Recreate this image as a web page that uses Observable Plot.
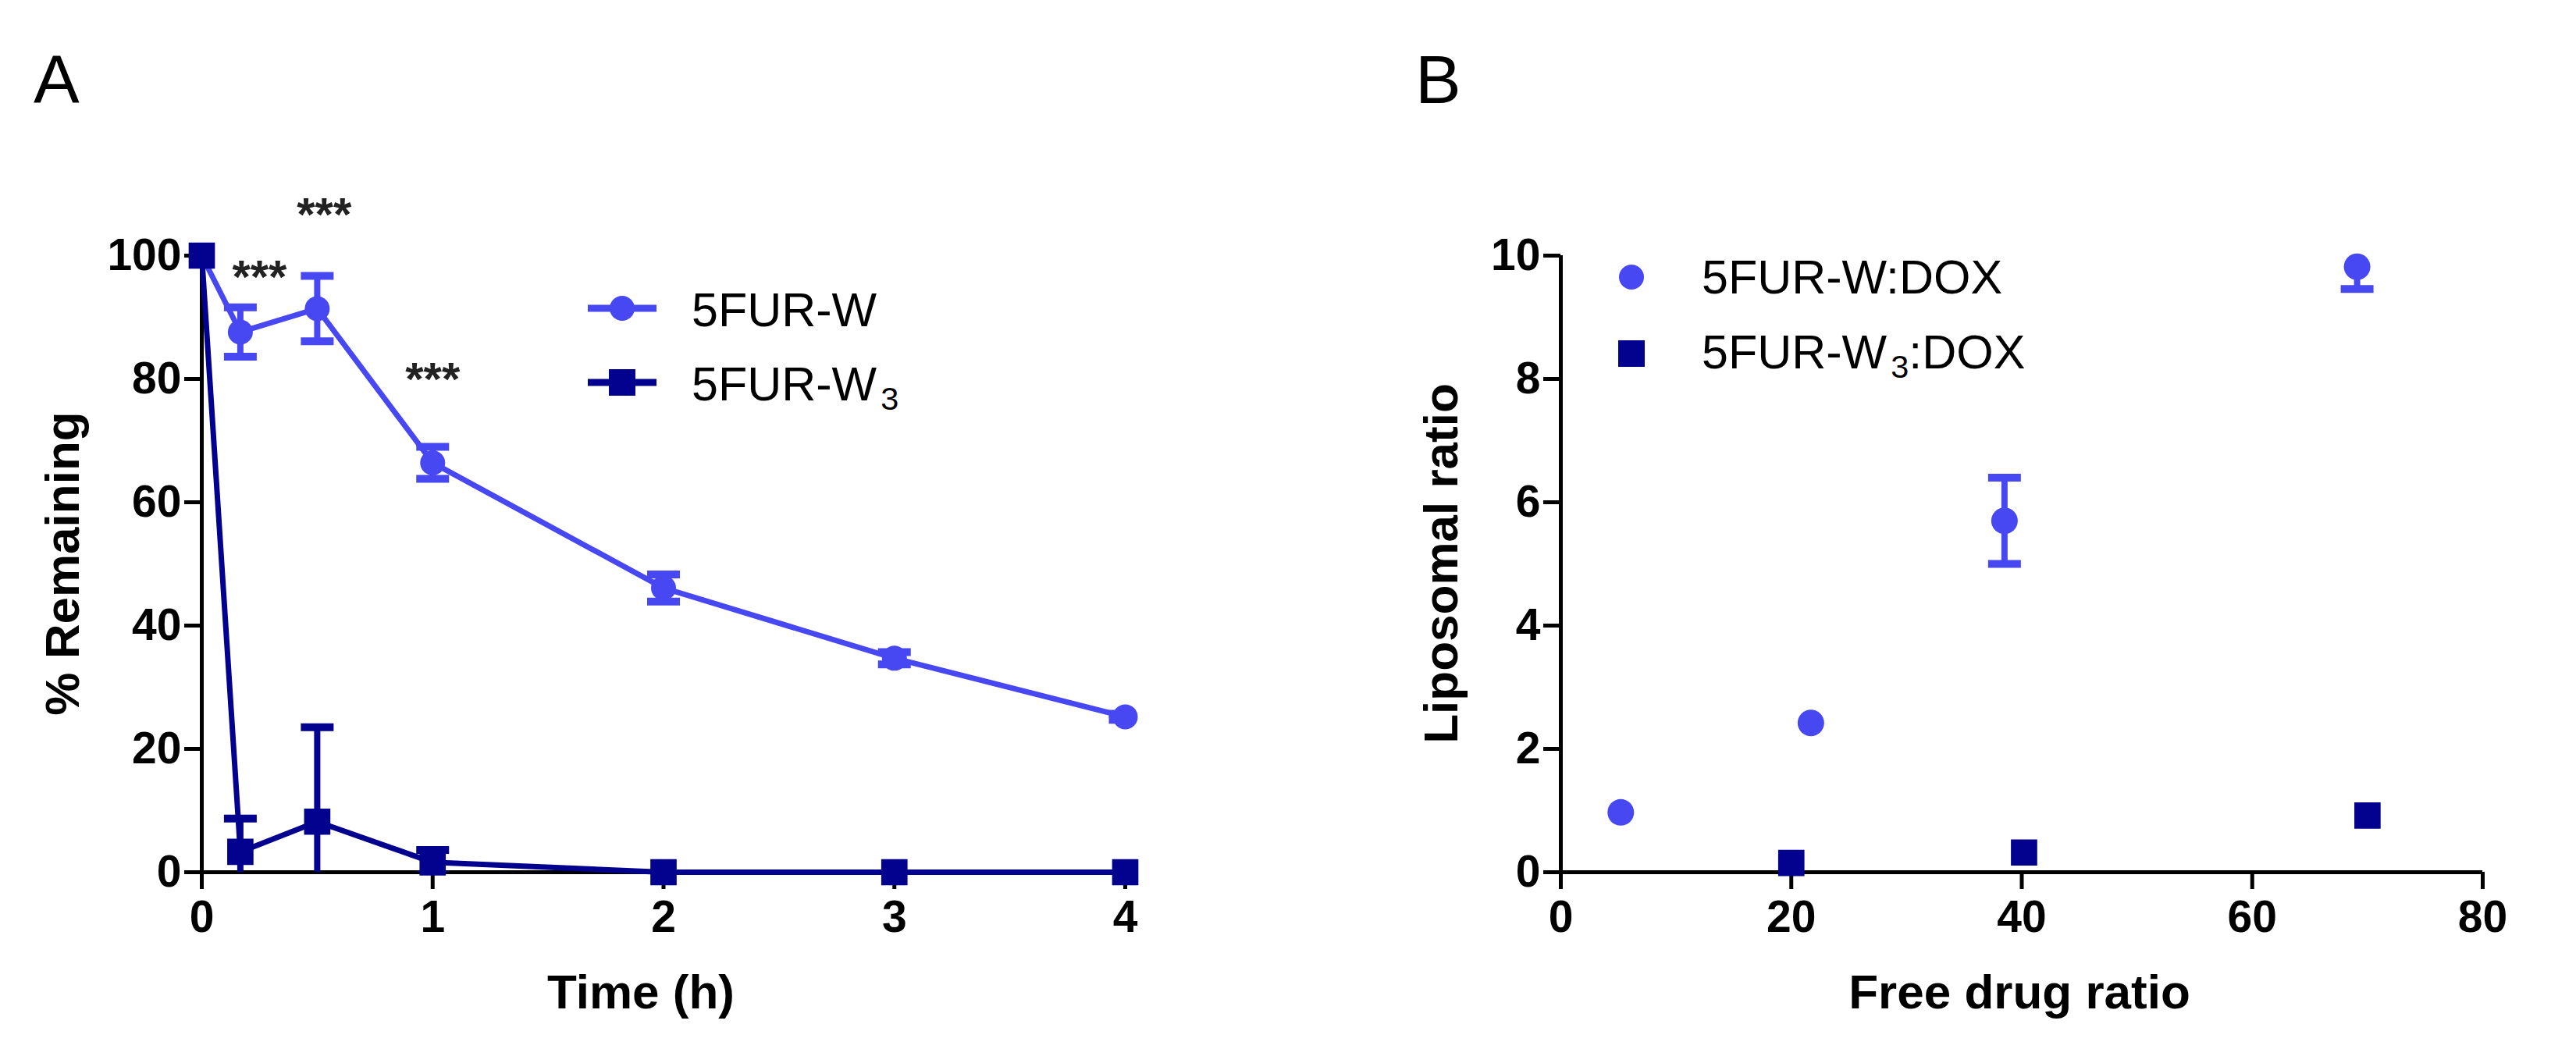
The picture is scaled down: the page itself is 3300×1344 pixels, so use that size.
<!DOCTYPE html>
<html>
<head>
<meta charset="utf-8">
<script src="https://cdn.jsdelivr.net/npm/d3@7"></script>
<script src="https://cdn.jsdelivr.net/npm/@observablehq/plot@0.6"></script>
<style>
  html, body { margin: 0; padding: 0; background: #fff; }
  #wrap { position: relative; width: 3300px; height: 1344px; overflow: hidden; background: #fff;
          font-family: "Liberation Sans", Arial, sans-serif; color: #000; }
  .panel { position: absolute; top: 0; }
  .lbl { position: absolute; white-space: nowrap; line-height: 1; transform: translate(-50%, -50%); }
  .letter { position: absolute; font-size: 88px; line-height: 1; }
  .axt { font-weight: bold; font-size: 62px; }
  .leg { position: absolute; white-space: nowrap; line-height: 1; font-size: 61px; transform: translateY(-50%); }
  .leg sub { font-size: 0.68em; vertical-align: -0.28em; margin-left: 0.12em; line-height: 0; }
  .sym { position: absolute; overflow: visible; }
</style>
</head>
<body>
<div id="wrap"></div>
<script>
// ---------- Panel A data ----------
const timeH      = [0, 0.167, 0.5, 1, 2, 3, 4];
const w1Mean     = [100, 87.6, 91.4, 66.4, 46.1, 34.7, 25.2];
const w1Sd       = [0, 4.0, 5.3, 2.6, 2.2, 1.0, 0.5];
const w3Mean     = [100, 3.3, 8.2, 1.6, 0, 0, 0];
const w3Sd       = [0, 5.4, 15.3, 2.0, 0, 0, 0];
const seriesA    = ["5FUR-W", "5FUR-W3"];
const xTicksA    = [0, 1, 2, 3, 4];
const yTicksA    = [0, 20, 40, 60, 80, 100];
const starLabels = ["***", "***", "***"];
const starT      = [0.25, 0.53, 1.0];
const starY      = [97.2, 107.3, 80.6];

// ---------- Panel B data ----------
const freeW      = [5.2, 21.7, 38.5, 69.1];
const lipoW      = [0.97, 2.42, 5.7, 9.82];
const lipoWSd    = [0, 0, 0.7, 0.36];
const freeW3     = [20, 40.2, 70];
const lipoW3     = [0.15, 0.32, 0.92];
const seriesB    = ["5FUR-W:DOX", "5FUR-W3:DOX"];
const xTicksB    = [0, 20, 40, 60, 80];
const yTicksB    = [0, 2, 4, 6, 8, 10];

const LIGHT = "#4848F2";
const NAVY  = "#02028E";
const FONT  = "'Liberation Sans', Arial, sans-serif";

const rowsW1 = timeH.map((t, i) => ({t, v: w1Mean[i], sd: w1Sd[i]}));
const rowsW3 = timeH.map((t, i) => ({t, v: w3Mean[i], sd: w3Sd[i]}));
const rowsBW = freeW.map((x, i) => ({x, v: lipoW[i], sd: lipoWSd[i]}));
const rowsBW3 = freeW3.map((x, i) => ({x, v: lipoW3[i], sd: 0}));
const stars = starLabels.map((s, i) => ({s, t: starT[i], y: starY[i]}));

// horizontal cap symbol for error bars
const capSymbol = { draw(ctx, size) { const w = Math.sqrt(size / Math.PI); ctx.moveTo(-w, 0); ctx.lineTo(w, 0); } };

function errMarks(rows, xKey, color, capR) {
  const r = rows.filter(d => d.sd > 0);
  const lo = r.map(d => ({...d, c: d.v - d.sd}));
  const hi = r.map(d => ({...d, c: d.v + d.sd}));
  return [
    Plot.ruleX(r, {x: xKey, y1: d => d.v - d.sd, y2: d => d.v + d.sd, stroke: color, strokeWidth: 8, clip: true}),
    Plot.dot(lo.concat(hi), {x: xKey, y: "c", symbol: capSymbol, r: capR, stroke: color, strokeWidth: 10, fill: "none", clip: true})
  ];
}

function axes(xt, yt) {
  return [
    Plot.axisY({ticks: yt, tickSize: 22, tickPadding: 4, fontSize: 57, strokeWidth: 5, stroke: "#000", fill: "#000", label: null, tickFormat: d => String(d)}),
    Plot.axisX({ticks: xt, tickSize: 22, tickPadding: 14, fontSize: 57, strokeWidth: 5, stroke: "#000", fill: "#000", label: null, tickFormat: d => String(d)}),
    Plot.ruleX([0], {stroke: "#000", strokeWidth: 5}),
    Plot.ruleY([0], {stroke: "#000", strokeWidth: 5})
  ];
}

const plotA = Plot.plot({
  width: 1650, height: 1344,
  marginLeft: 258, marginRight: 209, marginTop: 327, marginBottom: 227,
  x: {domain: [0, 4]},
  y: {domain: [0, 100]},
  style: {fontFamily: FONT, background: "transparent", overflow: "visible", fontWeight: "bold"},
  marks: [
    ...axes(xTicksA, yTicksA),
    Plot.line(rowsW1, {x: "t", y: "v", stroke: LIGHT, strokeWidth: 7}),
    ...errMarks(rowsW1, "t", LIGHT, 21),
    Plot.dot(rowsW1, {x: "t", y: "v", r: 16, fill: LIGHT, symbol: "circle"}),
    Plot.line(rowsW3, {x: "t", y: "v", stroke: NAVY, strokeWidth: 7}),
    ...errMarks(rowsW3, "t", NAVY, 21),
    Plot.dot(rowsW3, {x: "t", y: "v", r: 19, fill: NAVY, symbol: "square"}),
    Plot.text(stars, {x: "t", y: "y", text: "s", fontSize: 60, fontWeight: "bold", fill: "#222", dy: 6})
  ]
});

const plotB = Plot.plot({
  width: 1650, height: 1344,
  marginLeft: 349, marginRight: 120, marginTop: 327, marginBottom: 227,
  x: {domain: [0, 80]},
  y: {domain: [0, 10]},
  style: {fontFamily: FONT, background: "transparent", overflow: "visible", fontWeight: "bold"},
  marks: [
    ...axes(xTicksB, yTicksB),
    ...errMarks(rowsBW, "x", LIGHT, 21),
    Plot.dot(rowsBW, {x: "x", y: "v", r: 17, fill: LIGHT, symbol: "circle"}),
    Plot.dot(rowsBW3, {x: "x", y: "v", r: 19, fill: NAVY, symbol: "square"})
  ]
});

const wrap = document.getElementById("wrap");
plotA.classList.add("panel"); plotA.style.left = "0px";
plotB.classList.add("panel"); plotB.style.left = "1650px";
wrap.appendChild(plotA);
wrap.appendChild(plotB);

function addDiv(cls, html, left, top, extra) {
  const d = document.createElement("div");
  d.className = cls; d.innerHTML = html;
  d.style.left = left + "px"; d.style.top = top + "px";
  if (extra) Object.assign(d.style, extra);
  wrap.appendChild(d);
  return d;
}
// panel letters
addDiv("letter", "A", 43, 58);
addDiv("letter", "B", 1813, 58);
// axis titles
addDiv("lbl axt", "Time (h)", 821, 1271);
addDiv("lbl axt", "% Remaining", 80, 722, {transform: "translate(-50%, -50%) rotate(-90deg)"});
addDiv("lbl axt", "Free drug ratio", 2587, 1271);
addDiv("lbl axt", "Liposomal ratio", 1846, 722, {transform: "translate(-50%, -50%) rotate(-90deg)"});

// legend symbols (inline svg)
function legSym(x, y, color, kind, withLine) {
  const ns = "http://www.w3.org/2000/svg";
  const s = document.createElementNS(ns, "svg");
  s.setAttribute("class", "sym");
  s.setAttribute("width", 100); s.setAttribute("height", 60);
  s.style.left = (x - 50) + "px"; s.style.top = (y - 30) + "px";
  if (withLine) {
    const l = document.createElementNS(ns, "line");
    l.setAttribute("x1", 6); l.setAttribute("x2", 94); l.setAttribute("y1", 30); l.setAttribute("y2", 30);
    l.setAttribute("stroke", color); l.setAttribute("stroke-width", 9);
    s.appendChild(l);
  }
  if (kind === "circle") {
    const c = document.createElementNS(ns, "circle");
    c.setAttribute("cx", 50); c.setAttribute("cy", 30); c.setAttribute("r", 16); c.setAttribute("fill", color);
    s.appendChild(c);
  } else {
    const r = document.createElementNS(ns, "rect");
    r.setAttribute("x", 33); r.setAttribute("y", 13); r.setAttribute("width", 34); r.setAttribute("height", 34); r.setAttribute("fill", color);
    s.appendChild(r);
  }
  wrap.appendChild(s);
}
function legLabel(name) {
  return name.replace(/W3/, "W<sub>3</sub>");
}
legSym(797, 395, LIGHT, "circle", true);
legSym(797, 490, NAVY, "square", true);
addDiv("leg", legLabel(seriesA[0]), 886, 397);
addDiv("leg", legLabel(seriesA[1]), 886, 492);

legSym(2090, 355, LIGHT, "circle", false);
legSym(2090, 453, NAVY, "square", false);
addDiv("leg", legLabel(seriesB[0]), 2180, 355);
addDiv("leg", legLabel(seriesB[1]), 2180, 451);
</script>
</body>
</html>
